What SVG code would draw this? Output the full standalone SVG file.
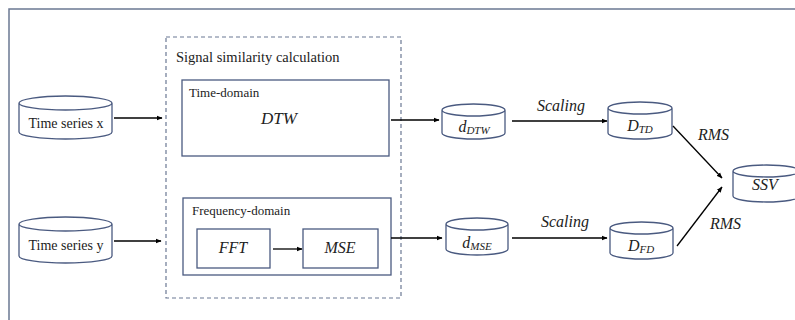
<svg xmlns="http://www.w3.org/2000/svg" width="795" height="320" viewBox="0 0 795 320" font-family="'Liberation Serif', 'Times New Roman', serif">
<style>
  .frame{fill:none;stroke:#6b7893;stroke-width:1.5}
  .dash{fill:none;stroke:#6b7893;stroke-width:1.2;stroke-dasharray:4 3}
  .box{fill:#fff;stroke:#4a5a80;stroke-width:1.3}
  .cyl{fill:#fff;stroke:#4a5a80;stroke-width:1.3}
  .conn{fill:none;stroke:#000;stroke-width:1.3;marker-end:url(#ah)}
  text{fill:#222}
  .lbl{font-size:14.5px}
  .ts{font-size:14px}
  .small{font-size:13px}
  .it{font-style:italic}
  .mid{text-anchor:middle}
</style>
<defs>
  <marker id="ah" viewBox="0 0 10 10" refX="9" refY="5" markerWidth="6" markerHeight="6" markerUnits="userSpaceOnUse" orient="auto">
    <path d="M0,1 L10,5 L0,9 z" fill="#000"/>
  </marker>
</defs>
<rect class="frame" x="9" y="9" width="800" height="330"/>
<g id="group-signal">
  <rect class="dash" x="166" y="37" width="235" height="261"/>
  <text class="lbl" x="176" y="62">Signal similarity calculation</text>
</g>
<g id="time-domain">
  <rect class="box" x="182" y="80" width="207" height="76"/>
  <text class="small" x="189" y="97">Time-domain</text>
  <text class="it mid" x="279" y="124" font-size="17">DTW</text>
</g>
<g id="freq-domain">
  <rect class="box" x="183" y="198" width="208" height="77"/>
  <text class="small" x="192" y="215">Frequency-domain</text>
</g>
<g id="fft">
  <rect class="box" x="197" y="229" width="73" height="39"/>
  <text class="it mid" x="233" y="253" font-size="16">FFT</text>
</g>
<g id="mse">
  <rect class="box" x="303" y="229" width="75" height="39"/>
  <text class="it mid" x="340" y="253" font-size="16">MSE</text>
</g>
<g id="ts-x">
  <path class="cyl" d="M19,103 A46.5,7 0 0 1 112,103 L112,132 A46.5,7 0 0 1 19,132 Z M19,103 A46.5,7 0 0 0 112,103"/>
  <text class="ts mid" x="66" y="128">Time series x</text>
</g>
<g id="ts-y">
  <path class="cyl" d="M19,224 A46.5,7 0 0 1 112,224 L112,256 A46.5,7 0 0 1 19,256 Z M19,224 A46.5,7 0 0 0 112,224"/>
  <text class="ts mid" x="66" y="250">Time series y</text>
</g>
<g id="d-dtw">
  <path class="cyl" d="M442,110 A31.5,6 0 0 1 505,110 L505,133 A31.5,6 0 0 1 442,133 Z M442,110 A31.5,6 0 0 0 505,110"/>
  <text class="it mid" x="474" y="132" font-size="16">d<tspan font-size="11" dy="2">DTW</tspan></text>
</g>
<g id="D-td">
  <path class="cyl" d="M608,108 A32,6 0 0 1 672,108 L672,133 A32,6 0 0 1 608,133 Z M608,108 A32,6 0 0 0 672,108"/>
  <text class="it mid" x="640" y="131" font-size="16">D<tspan font-size="11" dy="2">TD</tspan></text>
</g>
<g id="d-mse">
  <path class="cyl" d="M446,224 A31,6 0 0 1 508,224 L508,249 A31,6 0 0 1 446,249 Z M446,224 A31,6 0 0 0 508,224"/>
  <text class="it mid" x="477" y="248" font-size="16">d<tspan font-size="11" dy="2">MSE</tspan></text>
</g>
<g id="D-fd">
  <path class="cyl" d="M610,228 A31.5,6 0 0 1 673,228 L673,253 A31.5,6 0 0 1 610,253 Z M610,228 A31.5,6 0 0 0 673,228"/>
  <text class="it mid" x="641" y="251" font-size="16">D<tspan font-size="11" dy="2">FD</tspan></text>
</g>
<g id="ssv">
  <path class="cyl" d="M733,171 A33.5,6 0 0 1 800,171 L800,196 A33.5,6 0 0 1 733,196 Z M733,171 A33.5,6 0 0 0 800,171"/>
  <text class="it mid" x="765" y="190" font-size="16">SSV</text>
</g>
<g id="connectors">
  <line class="conn" x1="114" y1="118" x2="162" y2="118"/>
  <line class="conn" x1="114" y1="241" x2="161" y2="241"/>
  <line class="conn" x1="391" y1="120" x2="439" y2="120"/>
  <line class="conn" x1="391" y1="238" x2="442" y2="238"/>
  <line class="conn" x1="512" y1="121" x2="607" y2="121"/>
  <line class="conn" x1="512" y1="238" x2="607" y2="238"/>
  <line class="conn" x1="673" y1="126" x2="722" y2="178"/>
  <line class="conn" x1="677" y1="246" x2="722" y2="187"/>
  <line class="conn" x1="273" y1="249" x2="302" y2="249"/>
  <text class="it mid" x="561" y="111" font-size="16">Scaling</text>
  <text class="it mid" x="565" y="227" font-size="16">Scaling</text>
  <text class="it" x="698" y="140" font-size="16">RMS</text>
  <text class="it" x="710" y="229" font-size="16">RMS</text>
</g>
</svg>
